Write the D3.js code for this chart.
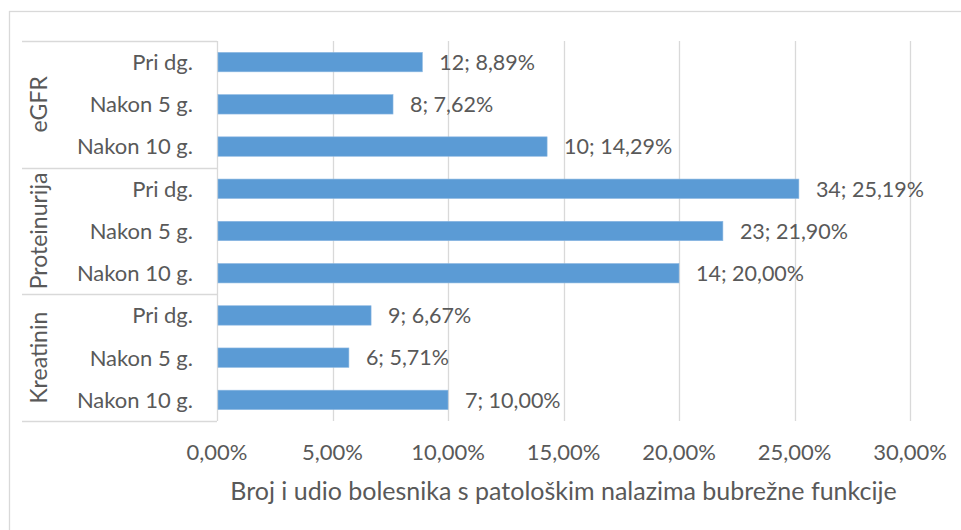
<!doctype html>
<html>
<head>
<meta charset="utf-8">
<title>Bubrezna funkcija</title>
<script src="https://cdn.jsdelivr.net/npm/d3@7"></script>
<style>
  body { margin: 0; background: #fff; }
  text { font-family: Lato, "Open Sans", sans-serif; fill: #595959; }
</style>
</head>
<body>
<script>

// DATA
var groups = ["eGFR", "Proteinurija", "Kreatinin"];
var periods = ["Pri dg.", "Nakon 5 g.", "Nakon 10 g."];
var counts = [12, 8, 10, 34, 23, 14, 9, 6, 7];
var percents = [8.89, 7.62, 14.29, 25.19, 21.90, 20.00, 6.67, 5.71, 10.00];
var xTicks = [0, 5, 10, 15, 20, 25, 30];
var axisTitle = "Broj i udio bolesnika s patološkim nalazima bubrežne funkcije";

// SIZES (note: "top" is taken by window.top, so use other names)
var w = 961, h = 530;
var plotL = 217, plotR = 910, plotT = 41, plotB = 421;
var fs = 22;

var rows = [];
groups.forEach(function(g, gi){
  periods.forEach(function(p, pi){
    var i = gi * periods.length + pi;
    rows.push({id: i, group: g, period: p, count: counts[i], pct: percents[i]});
  });
});

function fmt(v){ return v.toFixed(2).replace(".", ",") + "%"; }

var x = d3.scaleLinear().domain([0, 30]).range([plotL, plotR]);
var y = d3.scaleBand().domain(rows.map(function(d){ return d.id; }))
  .range([plotT, plotB]).paddingInner(0.54).paddingOuter(0.27);
var yg = d3.scaleBand().domain(groups).range([plotT, plotB]);

var svg = d3.select("body").append("svg").attr("width", w).attr("height", h);

// CHART BORDER (cropped on right and bottom)
svg.append("rect")
  .attr("x", 9.5).attr("y", 11.5).attr("width", 1000).attr("height", 600)
  .attr("fill", "#fff").attr("stroke", "#d9d9d9").attr("stroke-width", 1.3);

// GRIDLINES
svg.selectAll(".grid").data(xTicks).enter().append("line")
  .attr("x1", function(d){ return Math.round(x(d)) + 0.5; })
  .attr("x2", function(d){ return Math.round(x(d)) + 0.5; })
  .attr("y1", plotT).attr("y2", plotB)
  .attr("stroke", "#d9d9d9").attr("stroke-width", 1.3);

// GROUP SEPARATORS ON CATEGORY AXIS
var seps = groups.map(function(g){ return yg(g); }).concat([plotB]);
svg.selectAll(".sep").data(seps).enter().append("line")
  .attr("x1", 22).attr("x2", plotL)
  .attr("y1", function(d){ return Math.round(d) + 0.5; })
  .attr("y2", function(d){ return Math.round(d) + 0.5; })
  .attr("stroke", "#d9d9d9").attr("stroke-width", 1.3);

// BARS
svg.selectAll(".bar").data(rows).enter().append("rect")
  .attr("x", x(0) + 1)
  .attr("y", function(d){ return y(d.id); })
  .attr("width", function(d){ return x(d.pct) - x(0) - 1; })
  .attr("height", y.bandwidth())
  .attr("fill", "#5b9bd5")
  .attr("stroke", "#8cb8e2").attr("stroke-width", 0.6);

// DATA LABELS
svg.selectAll(".lbl").data(rows).enter().append("text")
  .attr("x", function(d){ return x(d.pct) + 17; })
  .attr("y", function(d){ return y(d.id) + y.bandwidth() / 2; })
  .attr("dy", "0.36em")
  .attr("font-size", 21.5)
  .text(function(d){ return d.count + "; " + fmt(d.pct); });

// CATEGORY LABELS
svg.selectAll(".cat").data(rows).enter().append("text")
  .attr("x", 193)
  .attr("y", function(d){ return y(d.id) + y.bandwidth() / 2; })
  .attr("dy", "0.36em")
  .attr("text-anchor", "end")
  .attr("font-size", fs)
  .text(function(d){ return d.period; });

// GROUP LABELS (ROTATED)
svg.selectAll(".grp").data(groups).enter().append("text")
  .attr("transform", function(g){
    return "translate(47," + (yg(g) + yg.bandwidth() / 2) + ") rotate(-90)";
  })
  .attr("text-anchor", "middle")
  .attr("font-size", 23)
  .text(function(g){ return g; });

// X TICK LABELS
svg.selectAll(".tick").data(xTicks).enter().append("text")
  .attr("x", function(d){ return x(d); })
  .attr("y", 460)
  .attr("text-anchor", "middle")
  .attr("font-size", fs)
  .text(function(d){ return fmt(d); });

// AXIS TITLE
svg.append("text")
  .attr("x", (plotL + plotR) / 2)
  .attr("y", 500)
  .attr("text-anchor", "middle")
  .attr("font-size", 25)
  .text(axisTitle);

</script>
</body>
</html>
